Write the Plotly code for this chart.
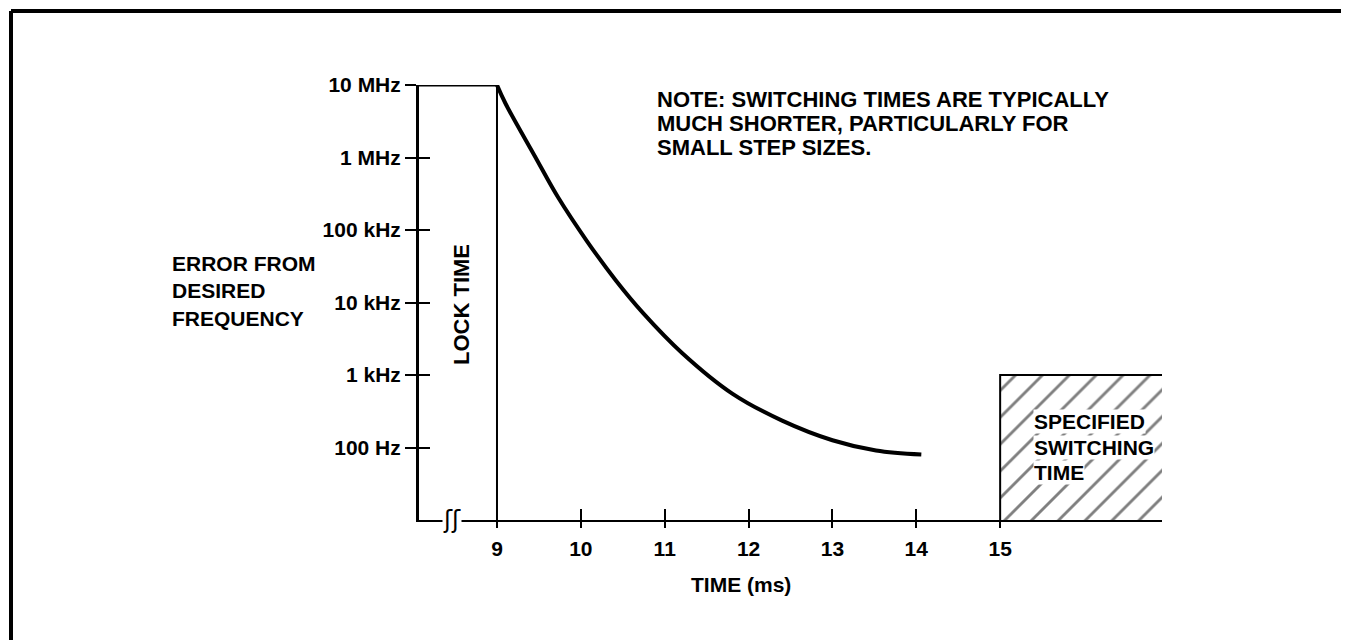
import plotly.graph_objects as go

# settling curve (time in ms, error in Hz)
time_ms = [9.00, 9.10, 9.45, 9.73, 10.07, 10.42, 10.74, 11.21, 11.81, 12.40, 13.00, 13.52, 14.06]
error_hz = [1.0e7, 5.6e6, 1.05e6, 2.8e5, 7.1e4, 2.0e4, 7.2e3, 2.0e3, 550, 235, 126, 91, 80]

lock_time_ms = 9
lock_start_hz = 1e7
spec_time_ms = 15
spec_end_ms = 16.93
spec_limit_hz = 1000
floor_hz = 10

x_tick_vals = [9, 10, 11, 12, 13, 14, 15]
x_tick_inner = [10, 11, 12, 13, 14]
y_tick_vals = [100, 1e3, 1e4, 1e5, 1e6, 1e7]
y_tick_text = ["100 Hz", "1 kHz", "10 kHz", "100 kHz", "1 MHz", "10 MHz"]

note_lines = ["NOTE: SWITCHING TIMES ARE TYPICALLY",
              "MUCH SHORTER, PARTICULARLY FOR",
              "SMALL STEP SIZES."]
spec_lines = ["SPECIFIED", "SWITCHING", "TIME"]

FONT = "Liberation Sans"
x_range = [8.07, 16.93]
y_range = [1, 7]

fig = go.Figure()

# hatched "specified switching time" region
fig.add_trace(go.Scatter(
    x=[spec_time_ms, spec_time_ms, spec_end_ms, spec_end_ms, spec_time_ms],
    y=[floor_hz, spec_limit_hz, spec_limit_hz, floor_hz, floor_hz],
    mode="lines", fill="toself", line=dict(width=0),
    fillcolor="white",
    fillpattern=dict(shape="/", fgcolor="black", bgcolor="white", size=19, solidity=0.15),
    hoverinfo="skip", showlegend=False))
fig.add_trace(go.Scatter(
    x=[spec_time_ms, spec_time_ms, spec_end_ms],
    y=[floor_hz, spec_limit_hz, spec_limit_hz],
    mode="lines", line=dict(color="black", width=2), showlegend=False))

# 10 MHz plateau and lock time line
fig.add_trace(go.Scatter(x=[x_range[0], lock_time_ms], y=[lock_start_hz, lock_start_hz],
                         mode="lines", line=dict(color="black", width=3), showlegend=False))
fig.add_trace(go.Scatter(x=[lock_time_ms, lock_time_ms], y=[floor_hz, lock_start_hz],
                         mode="lines", line=dict(color="black", width=2), showlegend=False))

# settling curve
fig.add_trace(go.Scatter(x=time_ms, y=error_hz, mode="lines",
                         line=dict(color="black", width=4, shape="spline", smoothing=1.0),
                         showlegend=False))

# dummy trace so the overlay axes (inner tick halves) are drawn
fig.add_trace(go.Scatter(x=[], y=[], xaxis="x2", yaxis="y2", showlegend=False))

tickfont = dict(family=FONT, size=21, color="black", weight="bold")
fig.update_layout(
    width=1349, height=640, autosize=False,
    margin=dict(l=411, r=195, t=77, b=128),
    paper_bgcolor="white", plot_bgcolor="white",
    showlegend=False,
    xaxis=dict(range=x_range, tickvals=x_tick_vals, ticks="outside", ticklen=6, tickwidth=2,
               tickcolor="black", showline=True, linecolor="black", linewidth=2,
               showgrid=False, zeroline=False, tickfont=tickfont, ticklabelstandoff=3),
    yaxis=dict(type="log", range=y_range, tickvals=y_tick_vals, ticktext=y_tick_text,
               ticks="outside", ticklen=11, tickwidth=2, tickcolor="black",
               showline=True, linecolor="black", linewidth=3, showgrid=False,
               zeroline=False, tickfont=tickfont, ticklabelstandoff=0),
    xaxis2=dict(range=x_range, overlaying="x", anchor="y", tickvals=x_tick_inner,
                ticks="inside", ticklen=11, tickwidth=2, tickcolor="black",
                showticklabels=False, showline=False, showgrid=False, zeroline=False),
    yaxis2=dict(type="log", range=y_range, overlaying="y", anchor="x", side="left",
                tickvals=y_tick_vals[:-1], ticks="inside", ticklen=11, tickwidth=2,
                tickcolor="black", showticklabels=False, showline=False,
                showgrid=False, zeroline=False),
)

def px_x(px):
    return (px - 419) / 743

def px_y(py):
    return (520 - py) / 435

textfont = dict(family=FONT, size=21, color="black", weight="bold")
fig.add_annotation(x=px_x(170), y=px_y(291), xref="paper", yref="paper",
                   text="ERROR FROM<br>DESIRED<br>FREQUENCY", align="left",
                   xanchor="left", yanchor="middle", showarrow=False, font=textfont)
for line, py in zip(note_lines, [100, 124, 148]):
    fig.add_annotation(x=px_x(655), y=px_y(py), xref="paper", yref="paper", text=line,
                       align="left", xanchor="left", yanchor="middle", showarrow=False,
                       font=dict(family=FONT, size=22, color="black", weight="bold"))
fig.add_annotation(x=px_x(741), y=px_y(584), xref="paper", yref="paper", text="TIME (ms)",
                   xanchor="center", yanchor="middle", showarrow=False, font=textfont)
fig.add_annotation(x=px_x(461), y=px_y(305), xref="paper", yref="paper", text="LOCK TIME",
                   textangle=-90, xanchor="center", yanchor="middle", showarrow=False,
                   font=dict(family=FONT, size=22, color="black", weight="bold"))
for label, py in zip(spec_lines, [421, 447, 472]):
    fig.add_annotation(x=px_x(1033), y=px_y(py), xref="paper", yref="paper", text=label,
                       xanchor="left", yanchor="middle", showarrow=False, font=textfont,
                       bgcolor="white", borderpad=0)
# axis break mark
fig.add_annotation(x=px_x(452), y=0, xref="paper", yref="paper", text="ʃʃ",
                   xanchor="center", yanchor="middle", showarrow=False,
                   font=dict(family="DejaVu Sans", size=24, color="black"),
                   bgcolor="white", borderpad=0)

# page frame (top and left edges)
fig.add_shape(type="line", xref="paper", yref="paper", x0=px_x(11), y0=px_y(11),
              x1=px_x(1360), y1=px_y(11), line=dict(color="black", width=4))
fig.add_shape(type="line", xref="paper", yref="paper", x0=px_x(11), y0=px_y(11),
              x1=px_x(11), y1=px_y(660), line=dict(color="black", width=4))

fig.write_html("out.html")
